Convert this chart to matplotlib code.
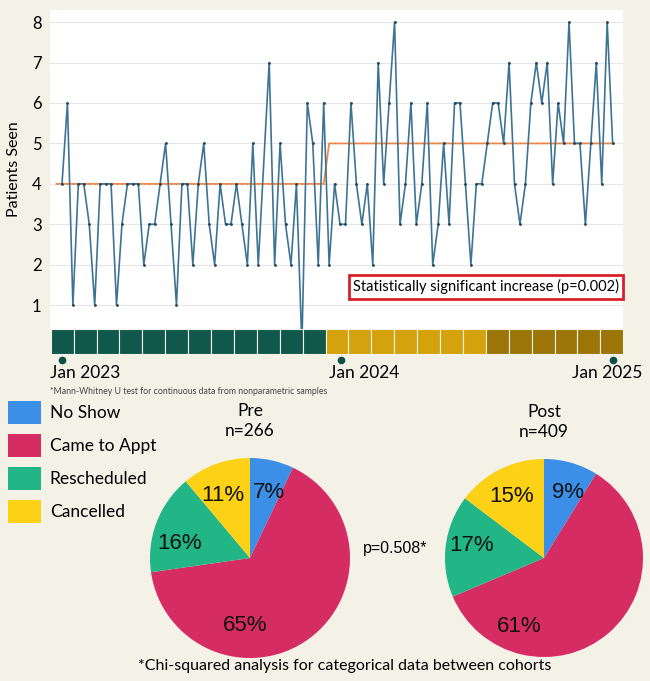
import numpy as np
import matplotlib.pyplot as plt
from matplotlib.patches import Patch, Rectangle
import matplotlib.transforms as mtransforms

# weekly clinic counts (week 37 not recorded)
weeks = [i for i in range(102) if i != 37]
patients = [4, 6, 1, 4, 4, 3, 1, 4, 4, 4,
            1, 3, 4, 4, 4, 2, 3, 3, 4, 5,
            3, 1, 4, 4, 2, 4, 5, 3, 2, 4,
            3, 3, 4, 3, 2, 5, 2, 7, 2,
            5, 3, 2, 4, 0, 6, 5, 2, 6, 2,
            4, 3, 3, 6, 4, 3, 4, 2, 7, 4,
            6, 8, 3, 4, 6, 3, 4, 6, 2, 3,
            5, 3, 6, 6, 4, 2, 4, 4, 5, 6,
            6, 5, 7, 4, 3, 4, 6, 7, 6, 7,
            4, 6, 5, 8, 5, 5, 3, 5, 7, 4,
            8, 5]
pre_mean, post_mean = 4, 5
last_pre_week = 48

block_colors = ['#0f584b'] * 12 + ['#d4a20d'] * 7 + ['#9b7507'] * 6
date_labels = ['Jan 2023', 'Jan 2024', 'Jan 2025']
date_weeks = [0, 51.2, 101]

categories = ['No Show', 'Came to Appt', 'Rescheduled', 'Cancelled']
cat_colors = ['#3b8fe6', '#d62c64', '#22b585', '#fcd116']
pre_pct = [7, 65, 16, 11]
post_pct = [9, 61, 17, 15]
pre_n, post_n = 266, 409

plt.rcParams['font.family'] = ['Lato', 'DejaVu Sans']

fig = plt.figure(figsize=(6.5, 6.81), dpi=100, facecolor='#f4f2e7')

# ---- line chart ----
ax = fig.add_axes([50/650, 1-329/681, 573/650, 319/681])
ax.set_facecolor('white')
mean_x = [-1] + weeks
mean_line = [pre_mean] + [pre_mean if w <= last_pre_week else post_mean for w in weeks]
ax.plot(mean_x, mean_line, color='#ef8a4c', lw=1.3, marker='.', ms=1.6,
        mfc='#e07a3c', mec='none', zorder=2)
ax.plot(weeks, patients, color='#3e7493', lw=1.2, marker='o', ms=1.0,
        mfc='#22465c', mec='#22465c', zorder=3)
ax.set_xlim(-2.2, 102.9)
ax.set_ylim(0.41, 8.3)
ax.set_yticks(range(1, 9))
ax.set_xticks([])
ax.tick_params(axis='y', length=0, labelsize=12, pad=6)
ax.grid(axis='y', color='#e6e6e6', lw=0.8)
ax.set_axisbelow(True)
for s in ax.spines.values():
    s.set_visible(False)
ax.set_ylabel('Patients Seen', fontsize=11.5, labelpad=8)
ax.text(0.761, 0.132, 'Statistically significant increase (p=0.002)',
        transform=ax.transAxes, ha='center', va='center', fontsize=10.5,
        bbox=dict(boxstyle='square,pad=0.3', fc='white', ec='#d8202a', lw=2))

# ---- timeline bar ----
bx = fig.add_axes([50.7/650, 1-354/681, 572.6/650, 24.7/681])
for i, c in enumerate(block_colors):
    bx.add_patch(Rectangle((i, 0), 1, 1, fc=c, ec='#f4f2e7', lw=0.8))
bx.set_xlim(0, len(block_colors))
bx.set_ylim(0, 1)
bx.axis('off')

trans = mtransforms.blended_transform_factory(ax.transData, fig.transFigure)
offsets = [-12, -12, 30]
aligns = ['left', 'left', 'right']
for lab, w, off, ha in zip(date_labels, date_weeks, offsets, aligns):
    ax.plot([w], [1-360/681], 'o', color='#0f4f45', ms=4.5, transform=trans,
            clip_on=False)
    ax.text(w + off / 5.45, 1-373/681, lab, transform=trans, ha=ha,
            va='center', fontsize=12.5)
fig.text(50/650, 1-391/681,
         '*Mann-Whitney U test for continuous data from nonparametric samples',
         fontsize=6.3, color='#444444', va='center')

# ---- pies ----
def draw_pie(rect, pct, title, n, lab_pos):
    pa = fig.add_axes(rect)
    pa.pie(pct, colors=cat_colors, startangle=90, counterclock=False,
           wedgeprops=dict(lw=0))
    for p, (ang, r) in zip(pct, lab_pos):
        a = np.deg2rad(ang)
        pa.text(r*np.cos(a), r*np.sin(a), '%d%%' % p, ha='center', va='center',
                fontsize=16, family='Liberation Sans', color='#111111')
    pa.set_xlim(-1.02, 1.02)
    pa.set_ylim(-1.02, 1.02)
    pa.text(0, 1.47, title, ha='center', va='center', fontsize=12.5)
    pa.text(0, 1.27, 'n=%d' % n, ha='center', va='center', fontsize=12.5)

draw_pie([148/650, 1-660/681, 204/650, 204/681], pre_pct, 'Pre', pre_n,
         [(74, 0.68), (-94, 0.68), (168, 0.72), (114, 0.68)])
draw_pie([443/650, 1-660/681, 202/650, 204/681], post_pct, 'Post', post_n,
         [(70, 0.70), (-110, 0.74), (170, 0.74), (118, 0.70)])

fig.text(395/650, 1-548/681, 'p=0.508*', ha='center', va='center',
         fontsize=11.5, family='Liberation Sans')
fig.text(345/650, 1-666/681,
         '*Chi-squared analysis for categorical data between cohorts',
         ha='center', va='center', fontsize=11.5)

handles = [Patch(fc=c, ec='none') for c in cat_colors]
fig.legend(handles, categories, loc='upper left',
           bbox_to_anchor=(8/650, 1-401/681), frameon=False, fontsize=12.5,
           handlelength=1.9, handleheight=1.65, labelspacing=0.58,
           handletextpad=0.5, borderaxespad=0, borderpad=0)

fig.savefig('out.png', dpi=100, facecolor=fig.get_facecolor())
